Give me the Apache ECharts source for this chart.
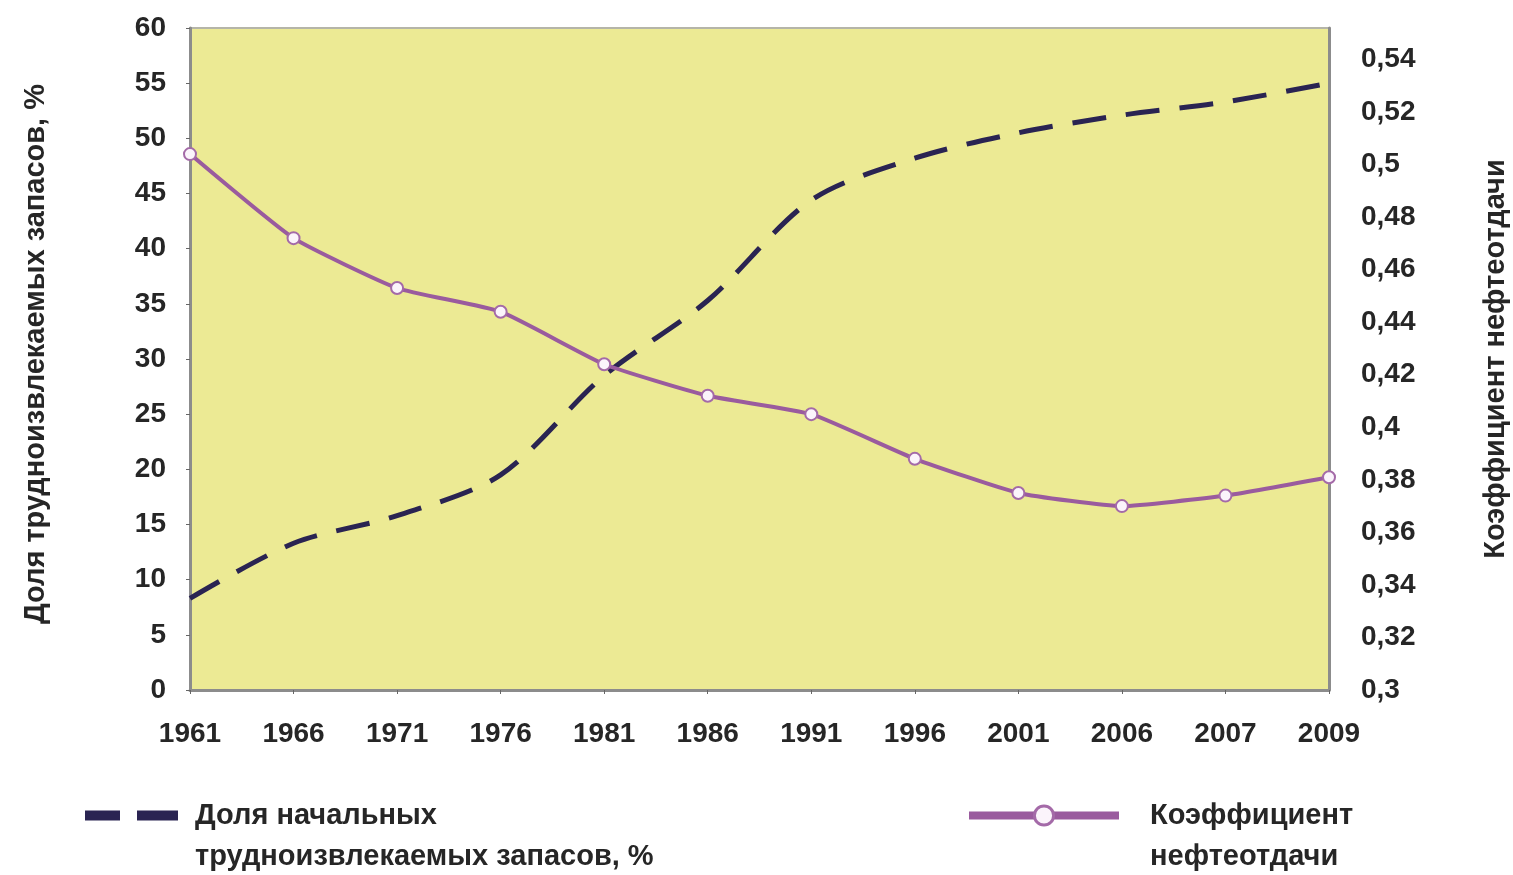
<!DOCTYPE html>
<html>
<head>
<meta charset="utf-8">
<script src="https://cdn.jsdelivr.net/npm/echarts@6/dist/echarts.min.js"></script>
<style>
  html, body { margin: 0; padding: 0; background: #fff; }
  #main { width: 1513px; height: 875px; }
</style>
</head>
<body>
<div id="main"></div>
<script>
    var years = ['1961', '1966', '1971', '1976', '1981', '1986', '1991', '1996', '2001', '2006', '2007', '2009'];
    // доля трудноизвлекаемых запасов, %
    var hardShare = [8.3, 13.3, 15.8, 19.5, 28.5, 35.3, 44.4, 48.2, 50.5, 52.1, 53.3, 55.0];
    // коэффициент нефтеотдачи
    var recovery = [0.504, 0.472, 0.453, 0.444, 0.424, 0.412, 0.405, 0.388, 0.375, 0.370, 0.374, 0.381];

    var nameHard = 'Доля начальных\nтрудноизвлекаемых запасов, %';
    var nameRec = 'Коэффициент\nнефтеотдачи';

    var font = '"Liberation Sans", Arial, sans-serif';
    var txt = '#262626';

    var myChart = echarts.init(document.getElementById('main'));
    var option = {
        backgroundColor: '#ffffff',
        textStyle: { fontFamily: font },
        grid: {
            left: 190,
            right: 184,
            top: 28,
            bottom: 185,
            containLabel: false,
            outerBoundsMode: 'none',
            show: true,
            backgroundColor: '#ECEA94',
            borderColor: '#b5b5a8',
            borderWidth: 2
        },
        legend: [
            {
                data: [{ name: nameHard, icon: 'path://M0,0H35V10H0ZM52,0H93V10H52Z' }],
                left: 85,
                top: 754,
                padding: 0,
                itemWidth: 93,
                itemHeight: 10,
                // пустая строка сверху, чтобы значок стоял на уровне первой строки
                formatter: function (n) { return '\n' + n; },
                textStyle: { fontFamily: font, fontSize: 29, fontWeight: 'bold', color: txt, lineHeight: 41, padding: [0, 0, 0, 12] }
            },
            {
                data: [nameRec],
                left: 965,
                top: 754,
                padding: 0,
                itemWidth: 150,
                itemHeight: 24,
                formatter: function (n) { return '\n' + n; },
                lineStyle: { width: 8 },
                itemStyle: { borderWidth: 3 },
                textStyle: { fontFamily: font, fontSize: 29, fontWeight: 'bold', color: txt, lineHeight: 41, padding: [0, 0, 0, 26] }
            }
        ],
        xAxis: {
            type: 'category',
            data: years,
            boundaryGap: false,
            axisLine: { lineStyle: { color: '#8c8c8c', width: 3 } },
            axisTick: { show: true, length: 4, lineStyle: { color: '#666' } },
            axisLabel: { fontSize: 28, fontWeight: 'bold', color: txt, margin: 30, fontFamily: font }
        },
        yAxis: [
            {
                type: 'value',
                min: 0,
                max: 60,
                interval: 5,
                name: 'Доля трудноизвлекаемых запасов, %',
                nameLocation: 'middle',
                nameRotate: 90,
                nameGap: 140,
                nameTextStyle: { fontSize: 29, fontWeight: 'bold', color: txt, fontFamily: font, padding: [0, 0, 0, 10] },
                splitLine: { show: false },
                axisLine: { show: true, lineStyle: { color: '#8c8c8c', width: 3 } },
                axisTick: { show: true, length: 4, lineStyle: { color: '#666' } },
                axisLabel: { fontSize: 28, fontWeight: 'bold', color: txt, margin: 24, fontFamily: font }
            },
            {
                type: 'value',
                min: 0.3,
                max: 0.552,
                interval: 0.02,
                position: 'right',
                name: 'Коэффициент нефтеотдачи',
                nameLocation: 'middle',
                nameRotate: 90,
                nameGap: 152,
                nameTextStyle: { fontSize: 29, fontWeight: 'bold', color: txt, fontFamily: font },
                splitLine: { show: false },
                axisLine: { show: true, lineStyle: { color: '#8c8c8c', width: 3 } },
                axisTick: { show: false },
                axisLabel: {
                    fontSize: 28,
                    fontWeight: 'bold',
                    color: txt,
                    margin: 32,
                    fontFamily: font,
                    showMaxLabel: false,
                    formatter: function (v) {
                        return String(Math.round(v * 100) / 100).replace('.', ',');
                    }
                }
            }
        ],
        series: [
            {
                name: nameHard,
                type: 'line',
                yAxisIndex: 0,
                data: hardShare,
                smooth: 0.3,
                showSymbol: false,
                symbol: 'none',
                itemStyle: { color: '#2a2452' },
                lineStyle: { color: '#2a2452', width: 5, type: [34, 20] }
            },
            {
                name: nameRec,
                type: 'line',
                yAxisIndex: 1,
                data: recovery,
                smooth: 0.15,
                symbol: 'circle',
                symbolSize: 12,
                itemStyle: { color: '#fbf4fb', borderColor: '#a46aa8', borderWidth: 2 },
                lineStyle: { color: '#9a5b9e', width: 4 }
            }
        ]
    };
    myChart.setOption(option);
</script>
</body>
</html>
